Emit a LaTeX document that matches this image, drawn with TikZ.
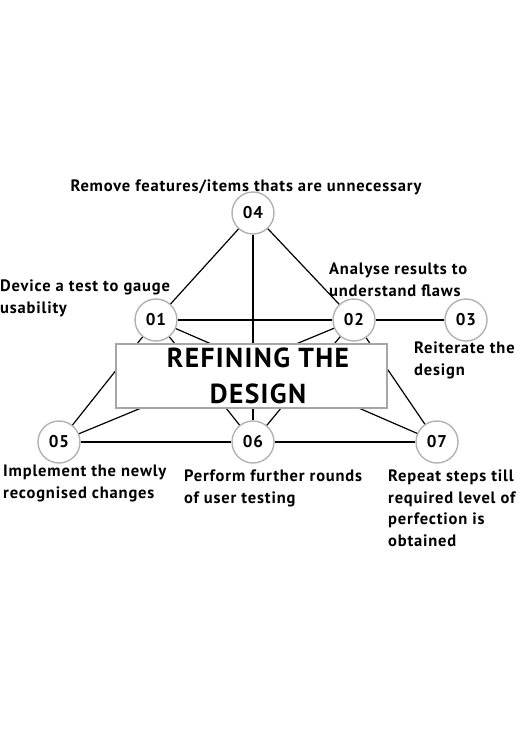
\documentclass[tikz,border=0pt]{standalone}
\usepackage{fontspec}
\setmainfont{PT Sans}[LetterSpace=5]
\begin{document}
\begin{tikzpicture}[x=1pt,y=-1pt,
    num/.style={circle,draw=gray!60,line width=1.4pt,fill=white,minimum size=42pt,inner sep=0pt,
      font=\bfseries\fontsize{17}{17}\selectfont},
    lbl/.style={anchor=north west,align=left,inner sep=0pt,font=\bfseries\fontsize{16.5}{21.5}\selectfont},
    link/.style={line width=1.2pt}]
    \useasboundingbox (0,0) rectangle (525,745);

    % numbered steps
    \node[num] (s4) at (253,213) {04};
    \node[num] (s1) at (156,320) {01};
    \node[num] (s2) at (354,320) {02};
    \node[num] (s3) at (466,320) {03};
    \node[num] (s5) at (59,442) {05};
    \node[num] (s6) at (253,442) {06};
    \node[num] (s7) at (437,442) {07};

    % connections
    \draw[link] (s4) -- (s1);
    \draw[link] (s4) -- (s2);
    \draw[link] (s4) -- (s6);
    \draw[link] (s1) -- (s2);
    \draw[link] (s2) -- (s3);
    \draw[link] (s1) -- (s5);
    \draw[link] (s1) -- (s6);
    \draw[link] (s1) -- (s7);
    \draw[link] (s2) -- (s5);
    \draw[link] (s2) -- (s6);
    \draw[link] (s2) -- (s7);
    \draw[link] (s5) -- (s6);
    \draw[link] (s6) -- (s7);

    % title box
    \node[draw=gray!70,line width=1.2pt,fill=white,minimum width=271pt,minimum height=64pt] (title) at (251.5,376) {};
    \node[anchor=north,align=center,inner sep=0pt,font=\bfseries\fontsize{27.5}{36}\selectfont] (titletxt) at (258,347.5) {REFINING THE\\DESIGN};

    % labels
    \node[lbl,anchor=base] (l4) at (246,191) {Remove features/items thats are unnecessary};
    \node[lbl] (l1) at (0,280) {Device a test to gauge\\usability};
    \node[lbl] (l2) at (329,263) {Analyse results to\\understand flaws};
    \node[lbl] (l3) at (414,342) {Reiterate the\\design};
    \node[lbl] (l5) at (3,465) {Implement the newly\\recognised changes};
    \node[lbl] (l6) at (184,470) {Perform further rounds\\of user testing};
    \node[lbl] (l7) at (388,470) {Repeat steps till\\required level of\\perfection is\\obtained};
\end{tikzpicture}
\end{document}
